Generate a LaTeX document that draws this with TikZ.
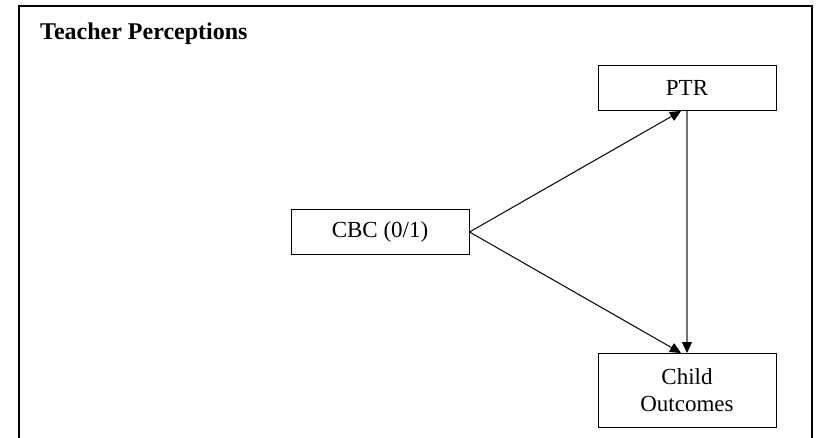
\documentclass[tikz,border=0pt]{standalone}
\usepackage{fontspec}
\setmainfont{Liberation Serif}
\usetikzlibrary{positioning,arrows.meta}
\tikzset{%
box/.style={draw,rectangle,line width=1pt,minimum width=178pt,minimum height=45pt,inner sep=2pt,font=\fontsize{23}{27}\selectfont,align=center},
link/.style={line width=1pt,-{Triangle[length=11pt,width=10pt,color=black]}},
frame/.style={line width=1.6pt},
title/.style={font=\fontsize{24}{28}\selectfont\bfseries,anchor=base west,inner sep=0}
}
\begin{document}
\begin{tikzpicture}[x=1pt,y=1pt]
  \useasboundingbox (0,0) rectangle (821,-438);

  \draw[frame] (19,-438) -- (19,-6) -- (812,-6) -- (812,-438);
  \node[title] (head) at (40,-40) {Teacher Perceptions};

  \node[box] (ptr)   at (687,-88)  {PTR};
  \node[box] (cbc)   at (380,-232) {CBC (0/1)};
  \node[box,minimum height=74pt] (child) [below=242pt of ptr] {Child\\Outcomes};

  \draw[link] (cbc.east) -- ([xshift=-6pt]ptr.south);
  \draw[link] (cbc.east) -- ([xshift=-6pt]child.north);
  \draw[link,black!55,line width=1.3pt] (ptr.south) -- (child.north);
\end{tikzpicture}
\end{document}
